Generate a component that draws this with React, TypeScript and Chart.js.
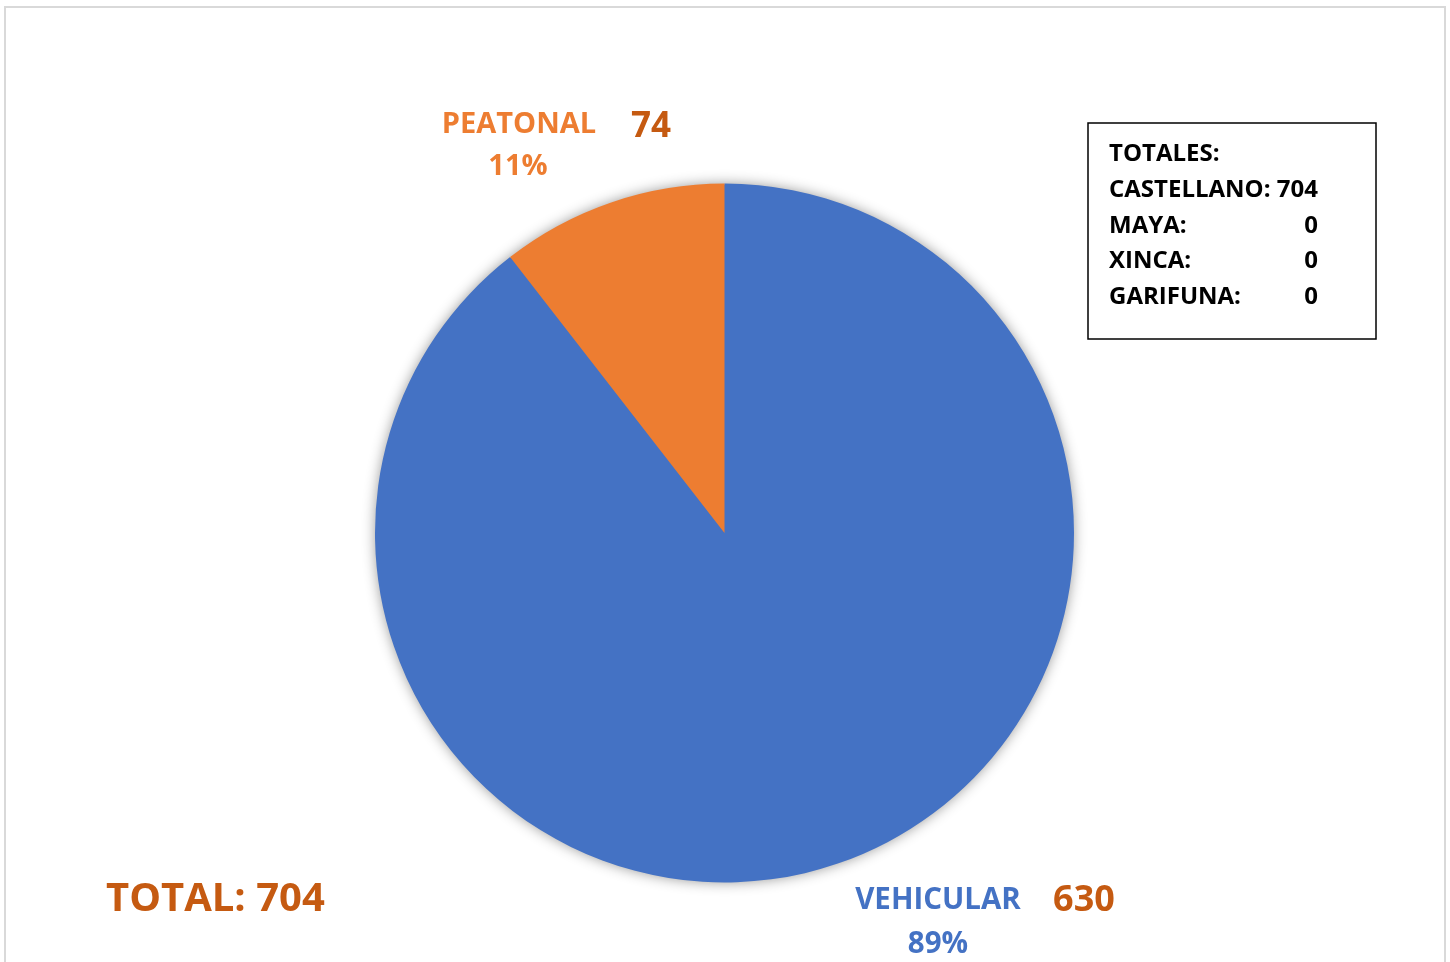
import React, { useEffect, useRef } from "react";
import { Chart, registerables } from "chart.js";

Chart.register(...registerables);

const categories = ["VEHICULAR", "PEATONAL"];
const values = [630, 74];
const percentLabels = ["89%", "11%"];
const totalLabel = "TOTAL: 704";
const boxLabels = ["TOTALES:", "CASTELLANO:", "MAYA:", "XINCA:", "GARIFUNA:"];
const boxValues = ["", "704", "0", "0", "0"];

const BLUE = "#4472C4";
const ORANGE = "#ED7D31";
const DARK_ORANGE = "#C55A11";
const FONT = "'Open Sans', sans-serif";

export default function App() {
  const ref = useRef<HTMLCanvasElement | null>(null);

  useEffect(() => {
    const canvas = ref.current;
    if (!canvas) return;

    const shadowPlugin = {
      id: "pieShadow",
      beforeDatasetsDraw(chart: any) {
        const meta = chart.getDatasetMeta(0);
        const arc = meta.data[0];
        if (!arc) return;
        const { x, y, outerRadius } = arc.getProps(["x", "y", "outerRadius"], true);
        const ctx = chart.ctx;
        ctx.save();
        ctx.shadowColor = "rgba(0,0,0,0.45)";
        ctx.shadowBlur = 14;
        ctx.shadowOffsetX = 0;
        ctx.shadowOffsetY = 0;
        ctx.fillStyle = BLUE;
        ctx.beginPath();
        ctx.arc(x, y, outerRadius - 1, 0, Math.PI * 2);
        ctx.fill();
        ctx.restore();
      },
    };

    const decorPlugin = {
      id: "decor",
      beforeDraw(chart: any) {
        const ctx = chart.ctx;
        ctx.save();
        ctx.fillStyle = "#ffffff";
        ctx.fillRect(0, 0, chart.width, chart.height);
        ctx.strokeStyle = "#d9d9d9";
        ctx.lineWidth = 2;
        ctx.strokeRect(5, 7, 1440, 1000);
        ctx.restore();
      },
      afterDraw(chart: any) {
        const ctx = chart.ctx;
        ctx.save();
        ctx.textBaseline = "alphabetic";

        // PEATONAL label
        ctx.textAlign = "center";
        ctx.fillStyle = ORANGE;
        ctx.font = `bold 29px ${FONT}`;
        ctx.fillText(categories[1], 519, 133);
        ctx.fillText(percentLabels[1], 518, 175);
        ctx.fillStyle = DARK_ORANGE;
        ctx.font = `bold 35px ${FONT}`;
        ctx.fillText(String(values[1]), 651, 137);

        // VEHICULAR label
        ctx.fillStyle = BLUE;
        ctx.font = `bold 29.5px ${FONT}`;
        ctx.fillText(categories[0], 938, 909);
        ctx.fillText(percentLabels[0], 938, 953);
        ctx.fillStyle = DARK_ORANGE;
        ctx.font = `bold 36px ${FONT}`;
        ctx.fillText(String(values[0]), 1084, 911);

        // TOTAL
        ctx.textAlign = "left";
        ctx.font = `bold 40px ${FONT}`;
        ctx.fillStyle = DARK_ORANGE;
        ctx.fillText(totalLabel, 106, 911);

        // Box
        ctx.strokeStyle = "#000000";
        ctx.lineWidth = 1.5;
        ctx.strokeRect(1088, 123, 288, 216);
        ctx.fillStyle = "#000000";
        ctx.font = `bold 24px ${FONT}`;
        for (let i = 0; i < boxLabels.length; i++) {
          const yy = 161 + i * 35.8;
          ctx.textAlign = "left";
          if (i === 1) {
            ctx.fillText(boxLabels[i] + " " + boxValues[i], 1109, yy);
            continue;
          }
          ctx.fillText(boxLabels[i], 1109, yy);
          if (boxValues[i]) {
            ctx.textAlign = "center";
            ctx.fillText(boxValues[i], 1311, yy);
          }
        }
        ctx.restore();
      },
    };

    const chart = new Chart(canvas, {
      type: "pie",
      data: {
        labels: categories,
        datasets: [
          {
            data: values,
            backgroundColor: [BLUE, ORANGE],
            borderWidth: 0,
          },
        ],
      },
      options: {
        responsive: false,
        animation: false,
        layout: { padding: { left: 375, right: 376, top: 183, bottom: 79 } },
        plugins: {
          legend: { display: false },
          tooltip: { enabled: false },
        },
      },
      plugins: [decorPlugin, shadowPlugin],
    });
    return () => chart.destroy();
  }, []);

  return (
    <div style={{ position: "fixed", left: 0, top: 0, width: 1450, height: 962, background: "#fff" }}>
      <canvas ref={ref} width={1450} height={962} style={{ display: "block" }} />
    </div>
  );
}
